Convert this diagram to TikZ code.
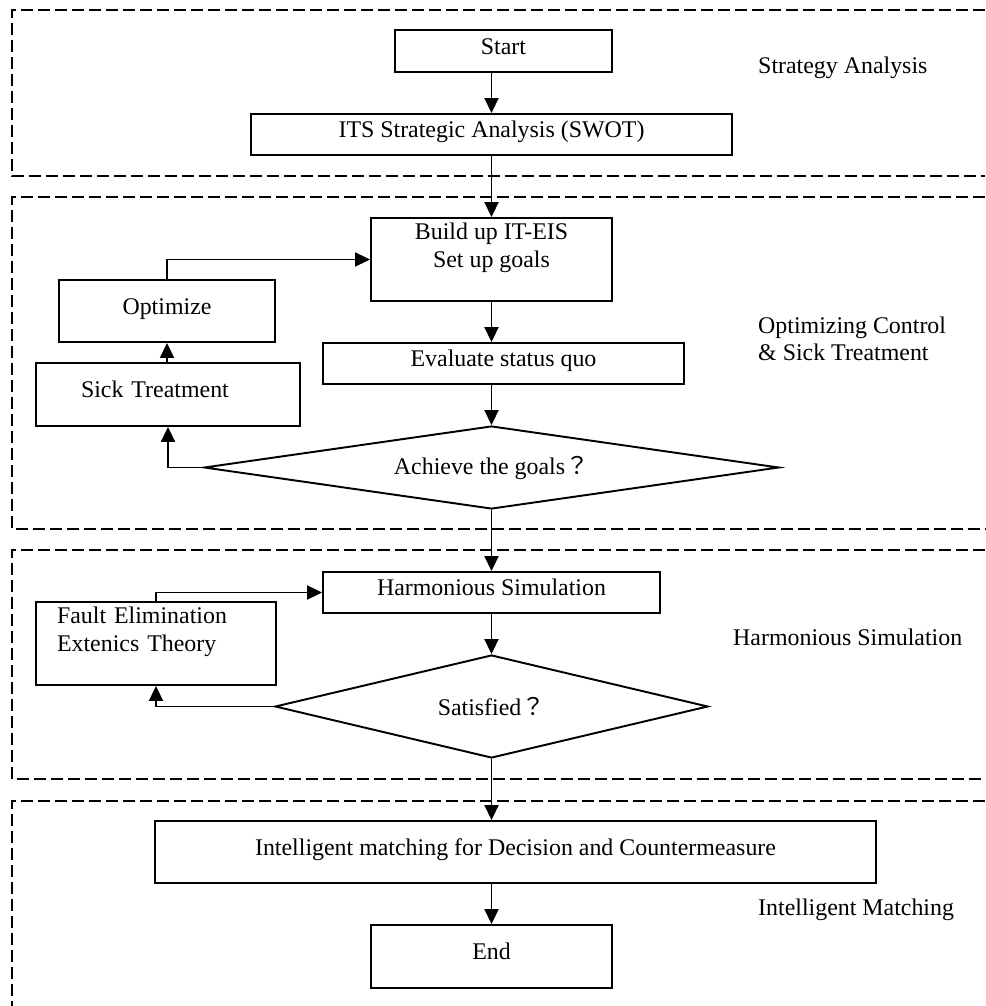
\documentclass[tikz,border=0pt]{standalone}
\usepackage{fontspec}
\setmainfont{Liberation Serif}
\newfontfamily\cjkfont{Noto Sans CJK JP}
\usepackage{tikz}
\usetikzlibrary{positioning}
\usetikzlibrary{calc}
\usetikzlibrary{arrows.meta}
\usetikzlibrary{shapes.geometric}

\begin{document}
\begin{tikzpicture}[x=0.02cm, y=-0.02cm,
  every node/.style={font=\fontsize{13.6}{16}\selectfont},
  block/.style={draw, line width=1.1pt, inner sep=0pt, align=center},
  single/.style={block, text height=9.5pt, text depth=6pt},
  decision/.style={draw, diamond, aspect=7, inner sep=0pt, line width=1.1pt},
  flow/.style={line width=1.1pt, -{Triangle[length=0.3cm,width=0.28cm]}},
  panel/.style={dash pattern=on 0.24cm off 0.1cm, line width=1.4pt},
  stage/.style={anchor=base west, align=left}]
\useasboundingbox (0,0) rectangle (985,1006);

\draw[panel] (985,10) -| (12,176) -- (985,176);
\draw[panel] (985,197) -| (12,529) -- (985,529);
\draw[panel] (985,550) -| (12,779) -- (985,779);
\draw[panel] (985,801) -| (12,1006);

\node[single, minimum width=4.34cm, minimum height=0.84cm] (start) at (503.5,51) {Start};
\node[single, minimum width=9.62cm, minimum height=0.82cm] (swot) at (491.5,134.5) {ITS Strategic Analysis (SWOT)};
\node[block, minimum width=4.82cm, minimum height=1.66cm] (build) at (491.5,259.5) {Build up IT-EIS\\Set up goals\\ \mbox{}};
\node[single, minimum width=4.32cm, minimum height=1.24cm] (optimize) at (167,311) {Optimize};
\node[single, minimum width=7.22cm, minimum height=0.82cm] (eval) at (503.5,363.5) {Evaluate status quo};
\node[single, align=left, text width=3.48cm, inner xsep=0.9cm, minimum width=5.28cm, minimum height=1.26cm] (sick) at (168,394.5) {Sick Treatment};
\node[decision, minimum width=11.5cm, minimum height=1.66cm] (achieve) at (491.5,467.5) {Achieve the goals{\cjkfont ？}};
\node[single, minimum width=6.74cm, minimum height=0.82cm] (harm) at (491.5,592.5) {Harmonious Simulation};
\node[block, align=left, text width=3.96cm, inner xsep=0.42cm, minimum width=4.8cm, minimum height=1.66cm] (fault) at (156,643.5) {Fault Elimination\\Extenics Theory\\ \mbox{}};
\node[decision, minimum width=8.66cm, minimum height=2.06cm] (satisfied) at (491.5,706.5) {Satisfied{\cjkfont ？}};
\node[single, minimum width=14.42cm, minimum height=1.24cm] (intel) at (515.5,852) {Intelligent matching for Decision and Countermeasure};
\node[single, minimum width=4.82cm, minimum height=1.26cm] (end) at (491.5,956.5) {End};

\node[stage] (s1) at (752,74) {Strategy Analysis};
\node[stage, font=\fontsize{13.6}{15}\selectfont] (s2) at (752,360) {Optimizing Control\\\& Sick Treatment};
\node[stage] (s3) at (727,645) {Harmonious Simulation};
\node[stage] (s4) at (752,915) {Intelligent Matching};

\draw[flow] (start.south -| swot.north) -- (swot.north);
\draw[flow] (swot.south) -- (build.north);
\draw[flow] (build.south) -- (build.south |- eval.north);
\draw[flow] (achieve.north |- eval.south) -- (achieve.north);
\draw[flow] (achieve.south) -- (harm.north);
\draw[flow] (harm.south) -- (satisfied.north);
\draw[flow] (satisfied.south) -- (satisfied.south |- intel.north);
\draw[flow] (intel.south -| end.north) -- (end.north);
\draw[flow] (achieve.west) -| (sick.south);
\draw[flow] (optimize.south |- sick.north) -- (optimize.south);
\draw[flow] (optimize.north) |- (build.west);
\draw[flow] (satisfied.west) -| (fault.south);
\draw[flow] (fault.north) |- (harm.west);
\end{tikzpicture}
\end{document}
